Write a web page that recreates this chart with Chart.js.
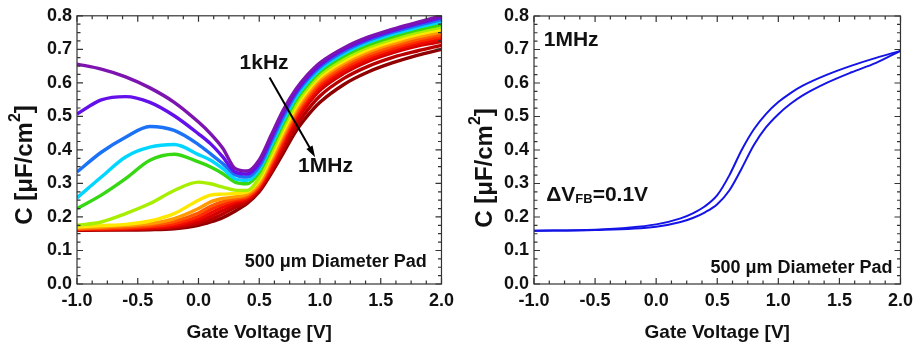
<!DOCTYPE html>
<html>
<head>
<meta charset="utf-8">
<script src="https://cdn.jsdelivr.net/npm/chart.js@4.4.0/dist/chart.umd.min.js"></script>
<style>
  html, body { margin: 0; padding: 0; background: #fff; }
  #wrap { position: relative; width: 919px; height: 346px; }
  canvas { position: absolute; top: 0; }
</style>
</head>
<body>
<div id="wrap">
  <canvas id="left" width="460" height="346" style="left:0"></canvas>
  <canvas id="right" width="459" height="346" style="left:460px"></canvas>
</div>
<script>
// gate voltage grid (V) for the frequency sweep
const volts = [-1.0, -0.8, -0.6, -0.4, -0.2, 0.0, 0.1, 0.2, 0.3, 0.4, 0.5, 0.6, 0.7, 0.8, 0.9, 1.0, 1.2, 1.4, 1.6, 1.8, 2.0];

// C [uF/cm2], 1kHz (top) ... 1MHz (bottom)
const c01 = [0.656, 0.641, 0.618, 0.585, 0.542, 0.483, 0.448, 0.405, 0.345, 0.337, 0.370, 0.445, 0.520, 0.580, 0.625, 0.660, 0.705, 0.737, 0.760, 0.780, 0.800];
const c02 = [0.507, 0.549, 0.559, 0.542, 0.502, 0.448, 0.418, 0.379, 0.334, 0.328, 0.360, 0.435, 0.510, 0.572, 0.618, 0.653, 0.700, 0.732, 0.756, 0.776, 0.795];
const c03 = [0.334, 0.393, 0.438, 0.470, 0.458, 0.416, 0.388, 0.359, 0.326, 0.319, 0.350, 0.425, 0.500, 0.565, 0.611, 0.647, 0.694, 0.727, 0.751, 0.771, 0.789];
const c04 = [0.257, 0.319, 0.379, 0.408, 0.416, 0.386, 0.369, 0.344, 0.314, 0.309, 0.342, 0.415, 0.490, 0.556, 0.603, 0.640, 0.688, 0.721, 0.745, 0.765, 0.782];
const c05 = [0.225, 0.265, 0.314, 0.369, 0.387, 0.364, 0.349, 0.329, 0.304, 0.299, 0.333, 0.405, 0.480, 0.547, 0.595, 0.633, 0.681, 0.714, 0.738, 0.758, 0.774];
const c06 = [0.175, 0.185, 0.210, 0.240, 0.279, 0.304, 0.299, 0.289, 0.280, 0.279, 0.318, 0.392, 0.468, 0.536, 0.586, 0.625, 0.673, 0.707, 0.731, 0.751, 0.766];
const c07 = [0.170, 0.174, 0.178, 0.188, 0.210, 0.250, 0.265, 0.268, 0.270, 0.275, 0.310, 0.382, 0.458, 0.527, 0.578, 0.618, 0.666, 0.700, 0.724, 0.744, 0.759];
const c08 = [0.167, 0.170, 0.174, 0.180, 0.195, 0.225, 0.245, 0.255, 0.260, 0.268, 0.302, 0.372, 0.448, 0.518, 0.570, 0.611, 0.659, 0.693, 0.717, 0.737, 0.752];
const c09 = [0.165, 0.167, 0.170, 0.175, 0.187, 0.212, 0.232, 0.246, 0.255, 0.263, 0.297, 0.365, 0.440, 0.510, 0.562, 0.603, 0.652, 0.686, 0.710, 0.730, 0.745];
const c10 = [0.164, 0.165, 0.167, 0.171, 0.180, 0.202, 0.222, 0.238, 0.250, 0.259, 0.292, 0.358, 0.432, 0.502, 0.555, 0.596, 0.645, 0.679, 0.703, 0.723, 0.738];
const c11 = [0.163, 0.164, 0.165, 0.168, 0.175, 0.194, 0.212, 0.229, 0.244, 0.254, 0.288, 0.350, 0.423, 0.493, 0.546, 0.588, 0.637, 0.672, 0.697, 0.716, 0.731];
const c12 = [0.162, 0.163, 0.164, 0.166, 0.171, 0.187, 0.202, 0.219, 0.237, 0.250, 0.284, 0.343, 0.414, 0.483, 0.536, 0.578, 0.629, 0.665, 0.690, 0.710, 0.723];
const c13 = [0.161, 0.162, 0.163, 0.164, 0.168, 0.181, 0.193, 0.209, 0.228, 0.245, 0.280, 0.337, 0.403, 0.468, 0.520, 0.561, 0.614, 0.650, 0.676, 0.695, 0.712];
const c14 = [0.160, 0.161, 0.161, 0.162, 0.165, 0.175, 0.185, 0.198, 0.217, 0.240, 0.275, 0.330, 0.392, 0.455, 0.503, 0.542, 0.596, 0.633, 0.660, 0.682, 0.700];
const sweep = [c01, c02, c03, c04, c05, c06, c07, c08, c09, c10, c11, c12, c13, c14];
const sweepColors = ['#7d14b0', '#6410ea', '#1c72f6', '#00d6ff', '#36d812', '#a8ee00', '#ffe800', '#ff9a00', '#ff5a00', '#ff2a00', '#ee0a00', '#d40000', '#b80000', '#900000'];

// 1MHz hysteresis sweep
const volts2 = [-1.0, -0.5, 0.0, 0.2, 0.3, 0.4, 0.5, 0.6, 0.7, 0.8, 0.9, 1.0, 1.1, 1.2, 1.4, 1.6, 1.8, 2.0];
const upSweep = [0.159, 0.162, 0.178, 0.196, 0.211, 0.232, 0.265, 0.325, 0.400, 0.462, 0.508, 0.543, 0.570, 0.592, 0.625, 0.652, 0.675, 0.696];
const downSweep = [0.159, 0.161, 0.171, 0.185, 0.197, 0.214, 0.238, 0.280, 0.345, 0.415, 0.468, 0.507, 0.538, 0.563, 0.601, 0.632, 0.660, 0.696];

const xTicks = [-1.0, -0.5, 0.0, 0.5, 1.0, 1.5, 2.0];
const yTicks = [0.0, 0.1, 0.2, 0.3, 0.4, 0.5, 0.6, 0.7, 0.8];

const pts = (xs, ys) => xs.map((x, i) => ({ x: x, y: ys[i] }));

const FONT = 'Liberation Sans, Arial, sans-serif';

// box around the plot with inward ticks on all sides
const frame = {
  id: 'frame',
  afterDatasetsDraw(chart) {
    const { ctx, chartArea: a, scales } = chart;
    const x = scales.x, y = scales.y;
    ctx.save();
    ctx.strokeStyle = '#333';
    ctx.lineWidth = 1.2;
    ctx.strokeRect(a.left, a.top, a.right - a.left, a.bottom - a.top);
    ctx.beginPath();
    for (let i = 0; i <= 24; i++) {
      const px = x.getPixelForValue(-1 + i * 0.125);
      const len = i % 4 === 0 ? 6 : 3.5;
      ctx.moveTo(px, a.bottom); ctx.lineTo(px, a.bottom - len);
      ctx.moveTo(px, a.top); ctx.lineTo(px, a.top + len);
    }
    for (let i = 0; i <= 32; i++) {
      const py = y.getPixelForValue(i * 0.025);
      const len = i % 4 === 0 ? 6 : 3.5;
      ctx.moveTo(a.left, py); ctx.lineTo(a.left + len, py);
      ctx.moveTo(a.right, py); ctx.lineTo(a.right - len, py);
    }
    ctx.stroke();
    ctx.restore();
  }
};

// axis titles (y one with superscript), text notes and arrow
const notes = {
  id: 'notes',
  afterDraw(chart, args, opts) {
    const { ctx, scales, chartArea: a } = chart;
    ctx.save();
    ctx.fillStyle = '#111';
    ctx.textBaseline = 'middle';

    ctx.font = 'bold 19px ' + FONT;
    ctx.textAlign = 'center';
    ctx.fillText('Gate Voltage [V]', (a.left + a.right) / 2, 333);

    const big = 'bold 24px ' + FONT, small = 'bold 16px ' + FONT;
    ctx.font = big;
    const w1 = ctx.measureText('C [μF/cm').width;
    const w3 = ctx.measureText(']').width;
    ctx.font = small;
    const w2 = ctx.measureText('2').width;
    const total = w1 + w2 + w3;
    ctx.translate(opts.titleX, opts.titleY);
    ctx.rotate(-Math.PI / 2);
    ctx.textAlign = 'left';
    ctx.font = big;
    ctx.fillText('C [μF/cm', -total / 2, 0);
    ctx.font = small;
    ctx.fillText('2', -total / 2 + w1, -9);
    ctx.font = big;
    ctx.fillText(']', -total / 2 + w1 + w2, 0);
    ctx.setTransform(1, 0, 0, 1, 0, 0);

    for (const n of opts.items) {
      const px = scales.x.getPixelForValue(n.x);
      const py = scales.y.getPixelForValue(n.y);
      if (n.parts) {
        let cx = px;
        ctx.textAlign = 'left';
        for (const p of n.parts) {
          ctx.font = 'bold ' + p.size + 'px ' + FONT;
          ctx.fillText(p.t, cx, py + (p.dy || 0));
          cx += ctx.measureText(p.t).width;
        }
      } else {
        ctx.font = 'bold ' + n.size + 'px ' + FONT;
        ctx.textAlign = n.align || 'center';
        ctx.fillText(n.text, px, py);
      }
    }
    if (opts.arrow) {
      const [x1, y1, x2, y2] = opts.arrow;
      const ax = scales.x.getPixelForValue(x1), ay = scales.y.getPixelForValue(y1);
      const bx = scales.x.getPixelForValue(x2), by = scales.y.getPixelForValue(y2);
      const ang = Math.atan2(by - ay, bx - ax);
      ctx.strokeStyle = '#000';
      ctx.lineWidth = 2;
      ctx.beginPath();
      ctx.moveTo(ax, ay);
      ctx.lineTo(bx - 8 * Math.cos(ang), by - 8 * Math.sin(ang));
      ctx.stroke();
      ctx.fillStyle = '#000';
      ctx.beginPath();
      ctx.moveTo(bx, by);
      ctx.lineTo(bx - 12 * Math.cos(ang - 0.3), by - 12 * Math.sin(ang - 0.3));
      ctx.lineTo(bx - 12 * Math.cos(ang + 0.3), by - 12 * Math.sin(ang + 0.3));
      ctx.closePath();
      ctx.fill();
    }
    ctx.restore();
  }
};

function axes(yWidth) {
  const tickFont = { family: FONT, size: 18, weight: 'bold' };
  return {
    x: {
      type: 'linear', min: -1, max: 2,
      afterBuildTicks: s => { s.ticks = xTicks.map(v => ({ value: v })); },
      afterFit: s => { s.height = 62; },
      grid: { display: false, drawTicks: false },
      border: { display: false },
      ticks: { color: '#111', font: tickFont, padding: 6, maxRotation: 0, callback: v => v.toFixed(1) }
    },
    y: {
      type: 'linear', min: 0, max: 0.8,
      afterBuildTicks: s => { s.ticks = yTicks.map(v => ({ value: v })); },
      afterFit: s => { s.width = yWidth; },
      grid: { display: false, drawTicks: false },
      border: { display: false },
      ticks: { color: '#111', font: tickFont, padding: 5, callback: v => v.toFixed(1) }
    }
  };
}

// left: frequency sweep, 1kHz drawn on top
const sweepSets = sweep.map((curve, i) => ({
  data: pts(volts, curve), borderColor: sweepColors[i], borderWidth: 3.4, order: i
}));

new Chart(document.getElementById('left'), {
  type: 'line',
  data: { datasets: sweepSets },
  options: {
    responsive: false,
    animation: false,
    layout: { padding: { top: 15, right: 14, left: 0, bottom: 0 } },
    elements: { point: { radius: 0 }, line: { cubicInterpolationMode: 'monotone', borderJoinStyle: 'round', borderCapStyle: 'butt' } },
    scales: axes(77),
    plugins: {
      legend: { display: false }, tooltip: { enabled: false },
      notes: {
        titleX: 25, titleY: 165,
        items: [
          { text: '1kHz', x: 0.54, y: 0.66, size: 21 },
          { text: '1MHz', x: 1.045, y: 0.35, size: 21 },
          { text: '500 μm Diameter Pad', x: 1.13, y: 0.067, size: 18 }
        ],
        arrow: [0.585, 0.616, 0.96, 0.378]
      }
    }
  },
  plugins: [frame, notes]
});

new Chart(document.getElementById('right'), {
  type: 'line',
  data: {
    datasets: [
      { data: pts(volts2, upSweep), borderColor: '#1414e6', borderWidth: 2 },
      { data: pts(volts2, downSweep), borderColor: '#1414e6', borderWidth: 2 }
    ]
  },
  options: {
    responsive: false,
    animation: false,
    layout: { padding: { top: 16, right: 17, left: 0, bottom: 0 } },
    elements: { point: { radius: 0 }, line: { cubicInterpolationMode: 'monotone' } },
    scales: axes(74),
    plugins: {
      legend: { display: false }, tooltip: { enabled: false },
      notes: {
        titleX: 25, titleY: 168,
        items: [
          { text: '1MHz', x: -0.92, y: 0.728, size: 21, align: 'left' },
          { x: -0.90, y: 0.266, parts: [{ t: 'ΔV', size: 21 }, { t: 'FB', size: 13, dy: 5 }, { t: '=0.1V', size: 21 }] },
          { text: '500 μm Diameter Pad', x: 1.19, y: 0.048, size: 18 }
        ]
      }
    }
  },
  plugins: [frame, notes]
});
</script>
</body>
</html>
